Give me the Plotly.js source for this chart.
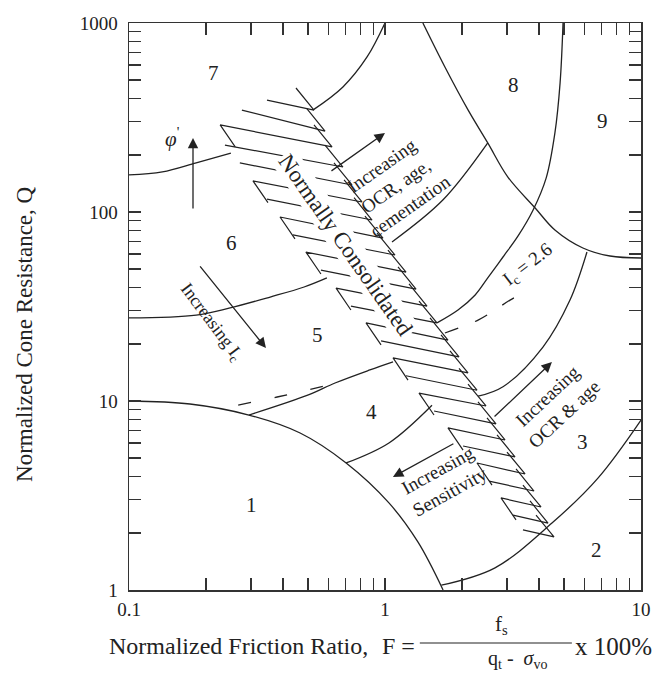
<!DOCTYPE html>
<html><head><meta charset="utf-8">
<script src="https://cdn.plot.ly/plotly-3.0.1.min.js"></script>
<style>html,body{margin:0;padding:0;background:#fff}</style>
</head><body>
<div id="chart" style="width:670px;height:673px"></div>
<script>
// ---- axis ticks (labels only on the decades) ----
const xTickVals = [0.1,0.2,0.3,0.4,0.5,0.6,0.7,0.8,0.9,1,2,3,4,5,6,7,8,9,10];
const xTickText = ['0.1','','','','','','','','','1','','','','','','','','','10'];
const yTickVals = [1,2,3,4,5,6,7,8,9,10,20,30,40,50,60,70,80,90,100,200,300,400,500,600,700,800,900,1000];
const yTickText = ['1','','','','','','','','','10','','','','','','','','','100','','','','','','','','','1000'];

// ---- zone boundary curves (F = friction ratio %, Q = normalized cone resistance) ----
const zone1F = [0.1, 0.173, 0.294, 0.466, 0.705, 1.036, 1.346, 1.686];
const zone1Q = [10.0, 9.64, 8.43, 6.77, 4.70, 2.89, 1.79, 1.0];
const zone2F = [1.66, 2.69, 4.49, 6.79, 10.0];
const zone2Q = [1.06, 1.31, 2.26, 3.91, 7.93];
const zone76aF = [0.1, 0.135, 0.183, 0.250];
const zone76aQ = [157, 163, 182, 205];
const zone76bF = [0.524, 0.685, 0.851, 1.0];
const zone76bQ = [347, 459, 661, 1000];
const zone65aF = [0.1, 0.183, 0.246, 0.356, 0.483, 0.593];
const zone65aQ = [27.5, 28.5, 31.0, 35.5, 40.1, 44.8];
const zone65bF = [1.065, 1.686, 2.52];
const zone65bQ = [69.4, 116, 232];
const zone54F = [0.294, 0.505, 0.638, 0.873, 1.075];
const zone54Q = [8.43, 10.8, 12.45, 14.6, 16.1];
const zone89F = [1.596, 1.928, 2.25, 2.52, 2.89, 3.31, 3.79, 4.26, 4.61, 4.83, 4.96];
const zone89Q = [25.9, 30.3, 36.4, 44.8, 57.8, 74.7, 102.5, 151, 262, 482, 1000];
const zone8F = [1.406, 1.714, 2.11, 2.52, 3.02, 3.86, 4.61, 5.93, 7.57, 10.0];
const zone8Q = [1000, 585, 347, 232, 153, 105, 80.3, 64.5, 58.5, 57.1];
const zone34bF = [2.31, 2.89, 4.14, 5.28, 6.15];
const zone34bQ = [10.6, 11.9, 19.3, 34.2, 61.4];
const zone34aF = [0.705, 1.036, 1.526];
const zone34aQ = [4.70, 6.0, 9.5];
const ic26aF = [0.267, 0.379, 0.609];
const ic26aQ = [9.52, 10.5, 12.2];
const ic26bF = [1.714, 2.31, 2.62, 3.08, 3.46];
const ic26bQ = [22.9, 26.8, 29.6, 34.2, 37.3];

// ---- normally consolidated band hatching (one entry per hatch stroke) ----
const ncLeftF  = [0.346,0.276,0.227,0.237,0.271,0.305,0.346,0.389,0.437,0.491,0.562,0.644,0.736,0.843,0.965,1.075,1.208,1.358,1.554,1.762,2.018,2.288,2.549,2.839,3.162,3.459];
const ncLeftQ  = [391,346,289,226,182,146,117,94.1,75.6,61.4,49.3,39.6,31.8,25.9,20.8,16.9,13.6,11.0,8.85,7.20,5.78,4.70,3.77,3.07,2.49,2.08];
const ncRightF = [0.528,0.583,0.621,0.685,0.743,0.813,0.890,0.982,1.094,1.208,1.322,1.459,1.596,1.762,1.946,2.110,2.288,2.480,2.714,2.943,3.220,3.524,3.819,4.068,4.333,4.573];
const ncRightQ = [346,268,221,173,139,113,90.7,72.8,59.2,48.1,39.1,31.8,25.9,21.0,17.1,14.1,11.4,9.41,7.56,6.22,5.06,4.11,3.34,2.75,2.26,1.91];
const ncTickF  = [0.449,0.496,0.528,0.583,0.632,0.692,0.757,0.835,0.931,1.027,1.124,1.241,1.358,1.499,1.655,1.794,1.946,2.110,2.308,2.503,2.739,2.996,3.250,3.459,3.685,3.890];
const ncTickQ  = [453,351,289,226,182,148,119,95.2,77.4,62.9,51.2,41.6,33.8,27.5,22.4,18.4,14.9,12.3,9.88,8.13,6.61,5.37,4.37,3.59,2.96,2.49];
const ncFootF  = [null,null,0.260,null,null,0.349,null,0.445,null,0.562,null,0.736,null,0.965,null,1.230,null,1.554,null,2.018,null,2.618,null,3.250,null,null];
const ncFootQ  = [null,null,221,null,null,112,null,72.0,null,47.0,null,30.3,null,19.8,null,12.9,null,8.43,null,5.50,null,3.59,null,2.35,null,null];

const hatchX = [], hatchY = [];
for (let i = 0; i < ncLeftF.length; i++) {
  if (ncFootF[i] !== null) { hatchX.push(ncFootF[i]); hatchY.push(ncFootQ[i]); }
  hatchX.push(ncLeftF[i], ncRightF[i], ncTickF[i], null);
  hatchY.push(ncLeftQ[i], ncRightQ[i], ncTickQ[i], null);
}

const ink = '#222';
function curve(x, y, extra) {
  return Object.assign({x: x, y: y, mode: 'lines', type: 'scatter', hoverinfo: 'skip',
    line: {color: ink, width: 1.3, shape: 'spline', smoothing: 1}, showlegend: false}, extra || {});
}
const traces = [
  curve(zone1F, zone1Q), curve(zone2F, zone2Q),
  curve(zone76aF, zone76aQ), curve(zone76bF, zone76bQ),
  curve(zone65aF, zone65aQ), curve(zone65bF, zone65bQ),
  curve(zone54F, zone54Q), curve(zone89F, zone89Q), curve(zone8F, zone8Q),
  curve(zone34aF, zone34aQ), curve(zone34bF, zone34bQ),
  curve(ic26aF, ic26aQ, {line: {color: ink, width: 1.3, shape: 'spline', dash: '13px,24px'}}),
  curve(ic26bF, ic26bQ, {line: {color: ink, width: 1.3, shape: 'spline', dash: '14px,18px'}}),
  {x: hatchX, y: hatchY, mode: 'lines', type: 'scatter', hoverinfo: 'skip', showlegend: false,
   connectgaps: false, line: {color: ink, width: 1.2}}
];

const serif = 'Liberation Serif, Times New Roman, serif';
function lab(x, y, text, size, extra) {
  return Object.assign({x: x, y: y, xref: 'x', yref: 'y', text: text, showarrow: false,
    xanchor: 'center', yanchor: 'middle',
    font: {family: serif, size: size, color: ink}}, extra || {});
}
function arrow(x, y, ax, ay) {
  return {x: x, y: y, ax: ax, ay: ay, xref: 'x', yref: 'y', axref: 'x', ayref: 'y', text: '',
    showarrow: true, arrowhead: 2, arrowsize: 1.6, arrowwidth: 1.3, arrowcolor: ink};
}
function pap(x, y, text, size, extra) {
  return Object.assign({x: x, y: y, xref: 'paper', yref: 'paper', text: text, showarrow: false,
    xanchor: 'center', yanchor: 'middle',
    font: {family: serif, size: size, color: ink}}, extra || {});
}

const annotations = [
  lab(-0.668, 2.735, '7', 21), lab(0.5, 2.672, '8', 21), lab(0.848, 2.481, '9', 21),
  lab(-0.598, 1.836, '6', 21), lab(-0.262, 1.349, '5', 21), lab(-0.051, 0.942, '4', 21),
  lab(0.773, 0.783, '3', 21), lab(0.828, 0.212, '2', 21), lab(-0.523, 0.450, '1', 21),
  lab(-0.832, 2.392, '<i>φ</i><sup>\'</sup>', 21),
  arrow(-0.75, 2.392, -0.75, 2.011),
  arrow(-0.465, 1.280, -0.727, 1.720),
  arrow(0, 2.418, -0.215, 2.212),
  arrow(0.652, 1.206, 0.422, 0.910),
  arrow(0.031, 0.598, 0.273, 0.778),
  lab(-0.680, 1.413, 'Increasing I<sub>c</sub>', 18, {textangle: 53}),
  lab(-0.152, 1.825, 'Normally Consolidated', 23, {textangle: 55, bgcolor: '#fff'}),
  lab(0.040, 2.140, 'Increasing<br>OCR, age,<br>cementation', 19, {textangle: -35}),
  lab(0.230, 0.577, 'Increasing<br>Sensitivity', 19, {textangle: -29}),
  lab(0.668, 0.979, 'Increasing<br>OCR &amp; age', 19, {textangle: -43}),
  lab(0.559, 1.720, 'I<sub>c</sub> = 2.6', 19, {textangle: -38}),
  pap(-0.203, 0.45, 'Normalized Cone Resistance, Q', 23, {textangle: -90}),
  pap(-0.043, -0.0988, 'Normalized Friction Ratio,', 24, {xanchor: 'left'}),
  pap(0.490, -0.0988, 'F =', 24, {xanchor: 'left'}),
  pap(0.727, -0.0617, 'f<sub>s</sub>', 21),
  pap(0.758, -0.1225, 'q<sub>t</sub> -  <i>σ</i><sub>vo</sub>', 20),
  pap(0.867, -0.0988, 'x 100%', 25, {xanchor: 'left'})
];

const axisCommon = {
  type: 'log', showgrid: false, zeroline: false, showline: true, linecolor: '#333', linewidth: 1.5,
  mirror: 'allticks', ticks: 'inside', ticklen: 12, tickwidth: 1.3, tickcolor: '#333',
  tickfont: {family: serif, size: 19, color: ink}, tickmode: 'array'
};
const layout = {
  width: 670, height: 673, margin: {l: 129, r: 29, t: 23, b: 83},
  paper_bgcolor: '#fff', plot_bgcolor: '#fff', showlegend: false,
  xaxis: Object.assign({}, axisCommon, {range: [-1, 1], tickvals: xTickVals, ticktext: xTickText, ticklabelstandoff: 2}),
  yaxis: Object.assign({}, axisCommon, {range: [0, 3], tickvals: yTickVals, ticktext: yTickText, ticklabelstandoff: 6}),
  annotations: annotations,
  shapes: [{type: 'line', xref: 'paper', yref: 'paper', x0: 0.568, x1: 0.865, y0: -0.0935, y1: -0.0935,
    line: {color: ink, width: 1.2}}]
};
Plotly.newPlot('chart', traces, layout, {staticPlot: true, displayModeBar: false});
</script></body></html>
